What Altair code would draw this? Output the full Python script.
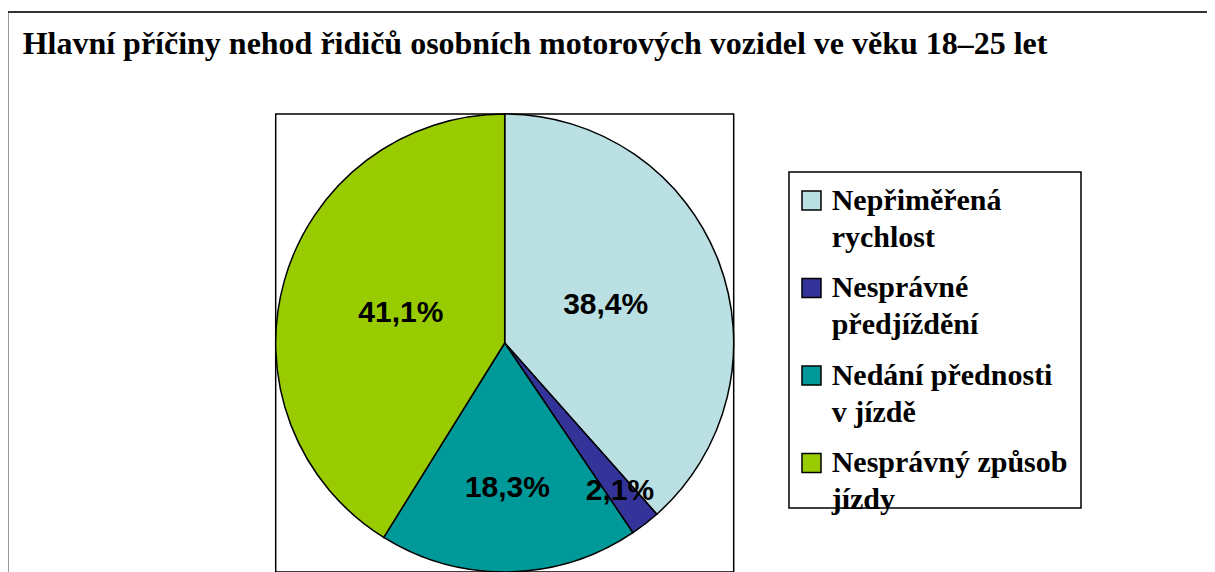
import altair as alt
import pandas as pd

title_text = "Hlavní příčiny nehod řidičů osobních motorových vozidel ve věku 18–25 let"
categories = ["Nepřiměřená\nrychlost", "Nesprávné\npředjíždění",
              "Nedání přednosti\nv jízdě", "Nesprávný způsob\njízdy"]
values = [38.4, 2.1, 18.3, 41.1]
colors = ["#BBE0E3", "#333399", "#009999", "#99CC00"]

df = pd.DataFrame({
    "category": categories,
    "value": values,
    "order": list(range(len(categories))),
    "label": [f"{v:.1f}".replace(".", ",") + "%" for v in values],
})

W = 458
H = 458

color = alt.Color("category:N", scale=alt.Scale(domain=categories, range=colors), legend=None)
order = alt.Order("order:Q")

base = alt.Chart(df)

pie = base.mark_arc(stroke="black", strokeWidth=1.5).encode(
    theta=alt.Theta("value:Q", stack=True), color=color, order=order
)

labels = base.transform_window(
    cum="sum(value)", sort=[alt.SortField("order")], frame=[None, 0]
).transform_calculate(
    mid="datum.cum - datum.value / 2",
    lr="datum.value < 5 ? 188 : (datum.value < 30 ? 145 : 108)"
).mark_text(
    font="Liberation Sans", fontWeight="bold", fontSize=30, color="black",
    align="center", baseline="middle"
).encode(
    theta=alt.Theta("mid:Q", stack=False),
    radius=alt.Radius("lr:Q", scale=None),
    text="label:N"
)

ypos = alt.Y("category:N", scale=alt.Scale(domain=categories, range=[86.5, 349], padding=0), axis=None)

leg_sym = base.mark_square(size=361, stroke="black", strokeWidth=1.5, opacity=1).encode(
    x=alt.value(535.8), y=ypos, color=color
)
leg_txt = base.mark_text(
    font="Liberation Serif", fontWeight="bold", fontSize=30, color="black",
    align="left", baseline="alphabetic", dy=9.5, lineBreak="\n", lineHeight=37
).encode(
    x=alt.value(556), y=ypos, text="category:N"
)

one = pd.DataFrame({"k": [0]})
leg_box = alt.Chart(one).mark_rect(fill="white", fillOpacity=0, stroke="black", strokeWidth=1.5).encode(
    x=alt.value(513.3), x2=alt.value(805.3), y=alt.value(58), y2=alt.value(394)
)
outer_box = alt.Chart(one).mark_rect(fill="white", fillOpacity=0, stroke="#333333", strokeWidth=2).encode(
    x=alt.value(-268.2), x2=alt.value(1300), y=alt.value(-102), y2=alt.value(700)
)

chart = alt.layer(outer_box, pie, labels, leg_box, leg_sym, leg_txt).properties(
    width=W, height=H,
    background="white",
    title=alt.Title(
        title_text, anchor="start", frame="group", font="Liberation Serif",
        fontSize=32, fontWeight="bold", color="black", baseline="alphabetic",
        offset=0, dx=-253, dy=75
    ),
    autosize=alt.AutoSizeParams(type="none"),
    padding={"left": 267.7, "top": 106, "right": 473, "bottom": 0},
).configure_view(stroke="black", strokeWidth=1.5)

chart.save("out.html", embed_options={"renderer": "svg", "actions": False})
